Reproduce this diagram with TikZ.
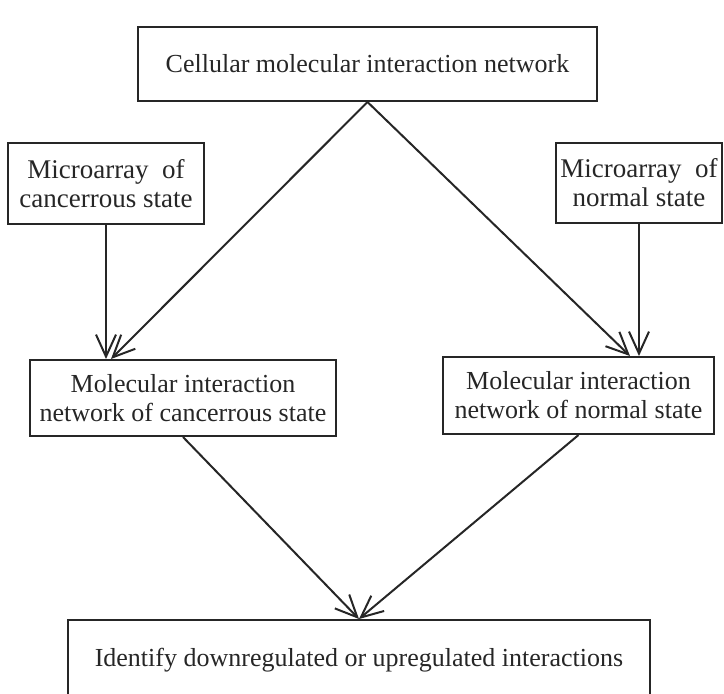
\documentclass[tikz,border=0pt]{standalone}
\usepackage{fontspec}
\setmainfont{Liberation Serif}
\usetikzlibrary{arrows.meta}

\tikzset{
  box/.style={draw=black!85, line width=1pt, align=center, inner sep=0pt,
    text=black!85, font=\fontsize{13}{14.5}\selectfont},
  link/.style={draw=black!85, line width=1pt,
    -{Straight Barb[length=11pt,width=10pt]}}
}

\begin{document}
\begin{tikzpicture}[x=0.5pt,y=-0.5pt]
    \clip (0,0) rectangle (724,693);

    \node[box, minimum width=229.5pt, minimum height=37pt] (cellnet) at (367.5,64) {Cellular molecular interaction network};

    \node[box, minimum width=98pt, minimum height=40.5pt, font=\fontsize{13.5}{14.5}\selectfont] (lmicro) at (106,183.5) {Microarray\ \ of\\cancerrous state};
    \node[box, minimum width=83pt, minimum height=40pt, font=\fontsize{13.5}{14.5}\selectfont] (rmicro) at (639,183) {Microarray\ \ of\\normal state};

    \node[box, minimum width=153pt, minimum height=38pt] (cnet) at (183,398) {Molecular interaction\\network of cancerrous state};
    \node[box, minimum width=135.5pt, minimum height=38.5pt] (nnet) at (578.5,395.5) {Molecular interaction\\network of normal state};

    \node[box, minimum width=291pt, minimum height=40pt] (ident) at (359,660) {Identify downregulated or upregulated interactions};

    \draw[link] (cellnet.south) -- ([xshift=41pt]cnet.north west);
    \draw[link] (cellnet.south) -- ([xshift=94pt]nnet.north west);
    \draw[link] (lmicro.south) -- (lmicro.south |- cnet.north);
    \draw[link] (rmicro.south) -- (rmicro.south |- nnet.north);

    \draw[link] (cnet.south) -- (ident.north);
    \draw[link] (nnet.south) -- (ident.north);
\end{tikzpicture}
\end{document}
